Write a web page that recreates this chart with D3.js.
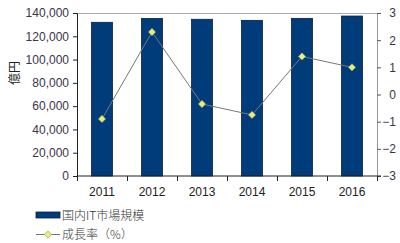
<!DOCTYPE html>
<html>
<head>
<meta charset="utf-8">
<script src="https://cdn.jsdelivr.net/npm/d3@7"></script>
<style>
  body { margin: 0; background: #fff; }
  svg text { font-family: Arial, "Liberation Sans", sans-serif; }
</style>
</head>
<body>
<svg id="chart" width="400" height="243"></svg>
<script>
const years = ["2011", "2012", "2013", "2014", "2015", "2016"];
const marketSize = [132000, 135300, 134600, 133700, 135400, 137400];
const growthRate = [-0.9, 2.3, -0.35, -0.75, 1.4, 1.0];
const leftTicks = [0, 20000, 40000, 60000, 80000, 100000, 120000, 140000];
const rightTicks = [-3, -2, -1, 0, 1, 2, 3];

const svg = d3.select("#chart");
const plot = { left: 77, right: 377, top: 13, bottom: 176 };

const x = d3.scaleBand().domain(years).range([plot.left, plot.right]).paddingInner(0.58).paddingOuter(0.29);
const xCat = d3.scaleBand().domain(years).range([plot.left, plot.right]);
const yLeft = d3.scaleLinear().domain([0, 140000]).range([plot.bottom, plot.top]);
const yRight = d3.scaleLinear().domain([-3, 3]).range([plot.bottom, plot.top]);

// top border of plot area
svg.append("line")
    .attr("x1", plot.left).attr("x2", plot.right)
    .attr("y1", plot.top + 0.5).attr("y2", plot.top + 0.5)
    .attr("stroke", "#aaa");

// bars
svg.selectAll("rect.bar").data(marketSize).join("rect")
    .attr("class", "bar")
    .attr("x", (d, i) => x(years[i]))
    .attr("width", x.bandwidth())
    .attr("y", d => yLeft(d))
    .attr("height", d => yLeft(0) - yLeft(d))
    .attr("fill", "#003c7a")
    .attr("stroke", "#0a1f3c")
    .attr("stroke-width", 0.8);

// left axis
const gl = svg.append("g").attr("transform", `translate(${plot.left},0)`)
    .call(d3.axisLeft(yLeft).tickValues(leftTicks).tickSize(4).tickFormat(d3.format(",")));
gl.select(".domain").attr("stroke", "#222");
gl.selectAll(".tick line").attr("stroke", "#222");
gl.selectAll("text").attr("font-size", 12).attr("fill", "#3a3448").attr("dx", "-1");

// right axis, labels right-aligned near the edge
const gr = svg.append("g").attr("transform", `translate(${plot.right},0)`)
    .call(d3.axisRight(yRight).tickValues(rightTicks).tickSize(4).tickFormat(d3.format("d")));
gr.select(".domain").attr("stroke", "#999");
gr.selectAll(".tick line").attr("stroke", "#555");
gr.selectAll("text").attr("font-size", 12).attr("fill", "#3a3448")
    .attr("text-anchor", "end").attr("x", 19);

// bottom axis
const gb = svg.append("g").attr("transform", `translate(0,${plot.bottom})`);
gb.append("line").attr("x1", plot.left).attr("x2", plot.right + 4)
    .attr("stroke", "#222");
gb.selectAll("line.tk").data(d3.range(years.length + 1)).join("line")
    .attr("class", "tk")
    .attr("x1", i => plot.left + i * xCat.step() + 0.5)
    .attr("x2", i => plot.left + i * xCat.step() + 0.5)
    .attr("y1", 0).attr("y2", 5)
    .attr("stroke", "#222");
gb.selectAll("text").data(years).join("text")
    .attr("x", d => xCat(d) + xCat.bandwidth() / 2)
    .attr("y", 20)
    .attr("text-anchor", "middle")
    .attr("font-size", 12)
    .attr("fill", "#222")
    .text(d => d);

// growth line
const line = d3.line().x((d, i) => xCat(years[i]) + xCat.bandwidth() / 2).y(d => yRight(d));
svg.append("path").datum(growthRate)
    .attr("d", line)
    .attr("fill", "none")
    .attr("stroke", "#777")
    .attr("stroke-width", 1);

const diamond = d3.symbol().type(d3.symbolDiamond2).size(34);
svg.selectAll("path.pt").data(growthRate).join("path")
    .attr("class", "pt")
    .attr("d", diamond)
    .attr("transform", (d, i) => `translate(${xCat(years[i]) + xCat.bandwidth() / 2},${yRight(d)})`)
    .attr("fill", "#e4ee86")
    .attr("stroke", "#9a9a3a")
    .attr("stroke-width", 0.6);

// y-axis title
svg.append("text")
    .attr("transform", "translate(19,73) rotate(-90)")
    .attr("text-anchor", "middle")
    .attr("font-size", 12)
    .attr("fill", "#222")
    .style("font-family", "'Noto Sans CJK JP', sans-serif")
    .text("億円");

// legend
const lg = svg.append("g");
lg.append("rect").attr("x", 36).attr("y", 212).attr("width", 24).attr("height", 6)
    .attr("fill", "#003c7a").attr("stroke", "#0a1f3c").attr("stroke-width", 0.8);
lg.append("text").attr("x", 62).attr("y", 219.5).attr("font-size", 12).attr("fill", "#333")
    .style("font-family", "'Noto Sans CJK JP', sans-serif")
    .style("font-weight", 300)
    .text("国内IT市場規模");
lg.append("line").attr("x1", 36).attr("x2", 60).attr("y1", 234.5).attr("y2", 234.5)
    .attr("stroke", "#777");
lg.append("path").attr("d", diamond).attr("transform", "translate(48,234.5)")
    .attr("fill", "#e4ee86").attr("stroke", "#9a9a3a").attr("stroke-width", 0.6);
lg.append("text").attr("x", 62).attr("y", 239).attr("font-size", 12).attr("fill", "#333")
    .style("font-family", "'Noto Sans CJK JP', sans-serif")
    .style("font-weight", 300)
    .text("成長率（%）");
</script>
</body>
</html>
